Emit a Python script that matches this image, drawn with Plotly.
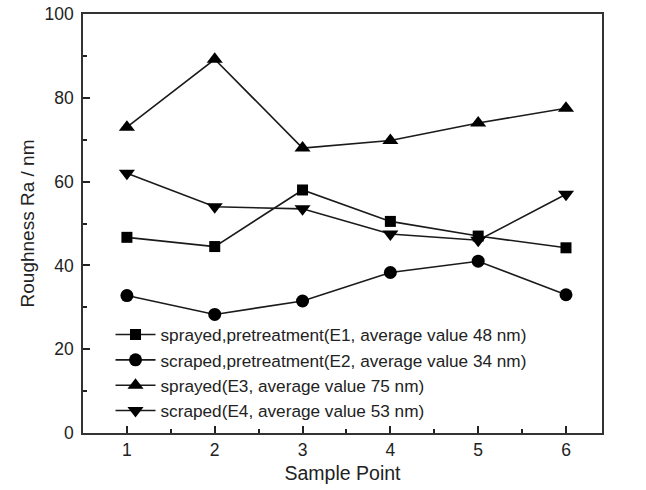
import plotly.graph_objects as go

x = [1, 2, 3, 4, 5, 6]
e1 = [46.7, 44.5, 58.0, 50.5, 47.0, 44.2]
e2 = [32.8, 28.3, 31.5, 38.3, 41.0, 33.0]
e3 = [73.0, 89.2, 68.0, 69.8, 74.0, 77.5]
e4 = [62.0, 54.0, 53.5, 47.5, 46.0, 57.0]
names = [
    "sprayed,pretreatment(E1, average value 48 nm)",
    "scraped,pretreatment(E2, average value 34 nm)",
    "sprayed(E3, average value 75 nm)",
    "scraped(E4, average value 53 nm)",
]
symbols = ["square", "circle", "triangle-up", "triangle-down"]
sizes = [11, 13, 14, 14]

fig = go.Figure()
for ys, nm, sym, sz in zip([e1, e2, e3, e4], names, symbols, sizes):
    fig.add_trace(go.Scatter(
        x=x, y=ys, name=nm, mode="lines+markers",
        line=dict(color="#1a1a1a", width=1.6),
        marker=dict(symbol=sym, size=sz, color="black"),
    ))

font = "Liberation Sans, Arial, sans-serif"
fig.update_layout(
    width=646, height=490,
    margin=dict(l=83, r=44, t=14, b=57),
    paper_bgcolor="white", plot_bgcolor="white",
    font=dict(family=font, size=17, color="#222"),
    showlegend=True,
    legend=dict(x=0.053, y=0.01, xanchor="left", yanchor="bottom",
                bgcolor="rgba(0,0,0,0)", font=dict(size=17.2, family=font),
                tracegroupgap=0, itemwidth=40),
    xaxis=dict(
        range=[0.5, 6.41], tickmode="array", tickvals=x,
        ticks="inside", ticklen=7, tickwidth=1.5, tickcolor="#222",
        tickfont=dict(size=17.5), automargin=False,
        showline=True, linecolor="#333", linewidth=1.5, mirror=True,
        showgrid=False, zeroline=False,
        title=dict(text="Sample Point", font=dict(size=19.5), standoff=8),
        minor=dict(tickvals=[1.5, 2.5, 3.5, 4.5, 5.5], ticks="inside", ticklen=4, tickcolor="#222"),
    ),
    yaxis=dict(
        range=[0, 100], tickmode="array", tickvals=[0, 20, 40, 60, 80, 100],
        ticks="inside", ticklen=7, tickwidth=1.5, tickcolor="#222",
        tickfont=dict(size=17.5), automargin=False, ticklabelstandoff=4,
        showline=True, linecolor="#333", linewidth=1.5, mirror=True,
        showgrid=False, zeroline=False,
        title=dict(text="Roughness Ra / nm", font=dict(size=19), standoff=5),
        minor=dict(tickvals=[10, 30, 50, 70, 90], ticks="inside", ticklen=4, tickcolor="#222"),
    ),
)
fig.write_html("out.html")
